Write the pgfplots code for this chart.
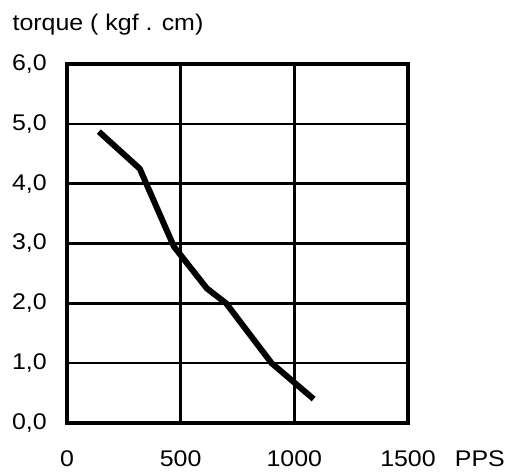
\documentclass[border=0pt]{standalone}
\usepackage{pgfplots}
\pgfplotsset{compat=1.18}
\usepackage{fontspec}
\setmainfont{Liberation Sans}[FakeStretch=1.1]

\begin{document}
\begin{tikzpicture}[font=\fontsize{17}{20}\selectfont]
\begin{axis}[
  name=ax,
  scale only axis,
  width=255.75pt,
  height=269.25pt,
  xmin=0, xmax=1500,
  ymin=0, ymax=6,
  xtick={0,500,1000,1500},
  ytick={0,1,2,3,4,5,6},
  major tick length=0pt,
  grid=major,
  grid style={black, line width=1.8pt},
  axis line style={black, line width=2.4pt},
  /pgf/number format/assume math mode=true,
  tick label style={font=\fontsize{17}{20}\selectfont},
  label style={font=\fontsize{17}{20}\selectfont},
  yticklabel style={
    /pgf/number format/.cd, fixed, fixed zerofill, precision=1, use comma,
    /tikz/.cd, anchor=east, inner sep=0pt, xshift=-15pt},
  xticklabel style={
    /pgf/number format/1000 sep={},
    anchor=base, inner sep=0pt, yshift=-33pt},
  ylabel={torque ( kgf . cm)},
  ylabel style={at={(axis description cs:0,1)}, rotate=-90,
    anchor=base west, inner sep=0pt, xshift=-41pt, yshift=25pt},
  xlabel={PPS},
  xlabel style={at={(axis description cs:1,0)},
    anchor=base west, inner sep=0pt, xshift=35pt, yshift=-33pt},
  clip=false,
]
\addplot[black, line width=4.5pt, line join=round] coordinates {
  (140,4.87) (320,4.25) (335,4.12) (470,2.95) (615,2.25)
  (700,2.0) (900,1.0) (1085,0.4)
};
\end{axis}
\path ([shift={(-50.25pt,-36.75pt)}]ax.south west)
  rectangle ([shift={(77.25pt,48pt)}]ax.north east);
\end{tikzpicture}
\end{document}
